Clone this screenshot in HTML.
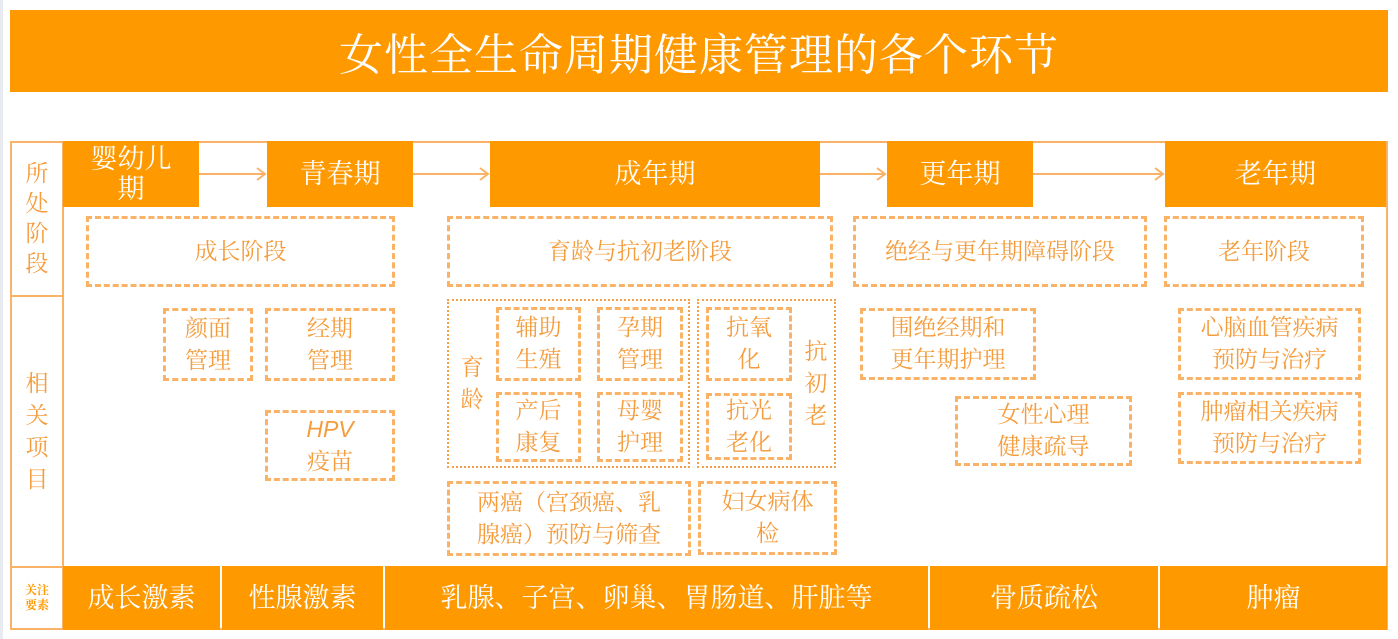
<!DOCTYPE html>
<html><head><meta charset="utf-8"><style>
body{margin:0;width:1398px;height:639px;background:#fff;position:relative;overflow:hidden;font-family:"Liberation Serif","Noto Serif CJK SC",serif;}
.a{position:absolute;box-sizing:border-box;display:flex;align-items:center;justify-content:center;text-align:center;}
.or{background:#FF9900;color:#fff;}
.d{border:3px dashed #F9B266;color:#F59C3C;font-size:23px;line-height:32px;}
.dt{border:2px dotted #F5A047;}
.st{font-size:27px;line-height:32px;}
.ln{position:absolute;background:#F9B266;}
</style></head><body>
<div style="position:absolute;left:0;top:0;width:3px;height:639px;background:#e8ecf2"></div>
<div class="a or" style="left:10px;top:10px;width:1378px;height:82px;font-size:44px;letter-spacing:1px">女性全生命周期健康管理的各个环节</div>

<!-- frame -->
<div style="position:absolute;left:10px;top:141px;width:1378px;height:489px;border:2px solid #F9B266;box-sizing:border-box"></div>
<div class="ln" style="left:62px;top:141px;width:2px;height:489px"></div>
<div class="ln" style="left:10px;top:295px;width:53px;height:2px"></div>
<div class="ln" style="left:10px;top:566px;width:53px;height:2px"></div>
<div class="a" style="left:12px;top:143px;width:50px;height:152px;color:#F59C3C;font-size:23px;line-height:30px">所<br>处<br>阶<br>段</div>
<div class="a" style="left:12px;top:297px;width:50px;height:269px;color:#F59C3C;font-size:23px;line-height:32px">相<br>关<br>项<br>目</div>
<div class="a" style="left:12px;top:568px;width:50px;height:60px;color:#FF9900;font-size:12px;line-height:15px;font-weight:bold">关注<br>要素</div>

<!-- stages -->
<div class="a or st" style="left:63px;top:141px;width:136px;height:66px;line-height:30px">婴幼儿<br>期</div>
<div class="a or st" style="left:267px;top:141px;width:146px;height:66px">青春期</div>
<div class="a or st" style="left:490px;top:141px;width:330px;height:66px">成年期</div>
<div class="a or st" style="left:887px;top:141px;width:146px;height:66px">更年期</div>
<div class="a or st" style="left:1165px;top:141px;width:221px;height:66px">老年期</div>
<svg style="position:absolute;left:0;top:0" width="1398" height="639">
<g stroke="#F9B266" stroke-width="2" fill="none">
<line x1="199" y1="174" x2="265" y2="174"/><polyline points="257,168 265,174 257,180"/>
<line x1="413" y1="174" x2="488" y2="174"/><polyline points="480,168 488,174 480,180"/>
<line x1="820" y1="174" x2="885" y2="174"/><polyline points="877,168 885,174 877,180"/>
<line x1="1033" y1="174" x2="1163" y2="174"/><polyline points="1155,168 1163,174 1155,180"/>
</g></svg>

<!-- stage dashed -->
<div class="a d" style="left:86px;top:216px;width:309px;height:71px">成长阶段</div>
<div class="a d" style="left:447px;top:216px;width:386px;height:71px">育龄与抗初老阶段</div>
<div class="a d" style="left:853px;top:216px;width:294px;height:71px">绝经与更年期障碍阶段</div>
<div class="a d" style="left:1164px;top:216px;width:200px;height:71px">老年阶段</div>

<div class="a d" style="left:163px;top:308px;width:90px;height:73px">颜面<br>管理</div>
<div class="a d" style="left:265px;top:308px;width:130px;height:73px">经期<br>管理</div>
<div class="a d" style="left:265px;top:410px;width:130px;height:71px"><span><i style="font-family:'Liberation Sans',sans-serif">HPV</i><br>疫苗</span></div>

<div class="a dt" style="left:447px;top:299px;width:243px;height:169px"></div>
<div class="a" style="left:452px;top:299px;width:40px;height:169px;color:#F59C3C;font-size:23px;line-height:32px">育<br>龄</div>
<div class="a d" style="left:496px;top:307px;width:85px;height:74px">辅助<br>生殖</div>
<div class="a d" style="left:597px;top:307px;width:86px;height:74px">孕期<br>管理</div>
<div class="a d" style="left:496px;top:392px;width:85px;height:70px">产后<br>康复</div>
<div class="a d" style="left:597px;top:392px;width:86px;height:70px">母婴<br>护理</div>
<div class="a dt" style="left:697px;top:299px;width:139px;height:169px"></div>
<div class="a d" style="left:706px;top:307px;width:86px;height:74px">抗氧<br>化</div>
<div class="a d" style="left:706px;top:393px;width:86px;height:67px">抗光<br>老化</div>
<div class="a" style="left:796px;top:299px;width:40px;height:169px;color:#F59C3C;font-size:23px;line-height:32px">抗<br>初<br>老</div>
<div class="a d" style="left:447px;top:481px;width:244px;height:75px">两癌（宫颈癌、乳<br>腺癌）预防与筛查</div>
<div class="a d" style="left:698px;top:481px;width:139px;height:74px">妇女病体<br>检</div>

<div class="a d" style="left:860px;top:308px;width:176px;height:72px">围绝经期和<br>更年期护理</div>
<div class="a d" style="left:955px;top:396px;width:177px;height:70px">女性心理<br>健康疏导</div>
<div class="a d" style="left:1178px;top:308px;width:183px;height:72px">心脑血管疾病<br>预防与治疗</div>
<div class="a d" style="left:1178px;top:392px;width:183px;height:72px">肿瘤相关疾病<br>预防与治疗</div>

<!-- bottom -->
<div class="a or st" style="left:63px;top:566px;width:157px;height:64px">成长激素</div>
<div class="a or st" style="left:222px;top:566px;width:161px;height:64px">性腺激素</div>
<div class="a or st" style="left:385px;top:566px;width:543px;height:64px">乳腺、子宫、卵巢、胃肠道、肝脏等</div>
<div class="a or st" style="left:930px;top:566px;width:228px;height:64px">骨质疏松</div>
<div class="a or st" style="left:1160px;top:566px;width:227px;height:64px">肿瘤</div>
</body></html>
